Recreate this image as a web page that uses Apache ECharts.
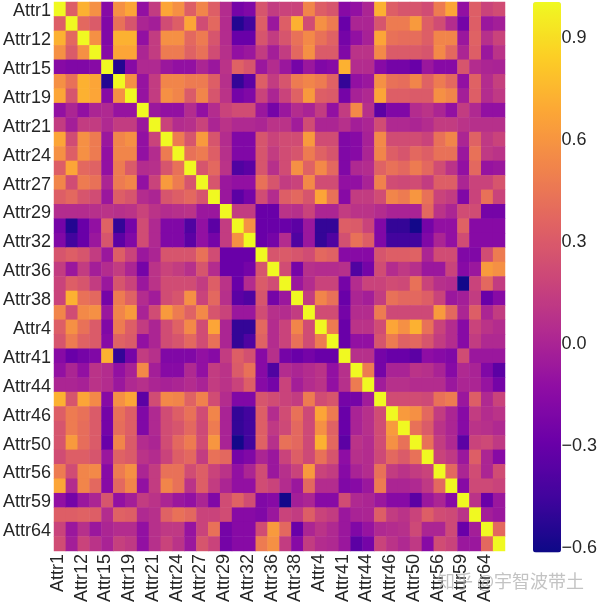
<!DOCTYPE html>
<html><head><meta charset="utf-8">
<style>html,body{margin:0;padding:0;background:#fff}#c{width:600px;height:605px}</style>
<script src="https://cdn.jsdelivr.net/npm/echarts@6/dist/echarts.min.js"></script>
</head><body><div id="c"></div>
<script>
const tickLabels = ['Attr1','Attr12','Attr15','Attr19','Attr21','Attr24','Attr27','Attr29','Attr32','Attr36','Attr38','Attr4','Attr41','Attr44','Attr46','Attr50','Attr56','Attr59','Attr64'];
const colorbarTicks = [-0.6,-0.3,0,0.3,0.6,0.9];
const plasma = ['#0d0887','#41049d','#6a00a8','#8f0da4','#b12a90','#cc4778','#e16462','#f1844b','#fca636','#fcce25','#f0f921'];
// upper triangle of the correlation matrix, each row starting at its diagonal cell
const row00=[1,.32,.72,.57,-.17,.57,.67,-.12,.13,.67,.57,.32,.52,.32,.04,-.25,-.2,.27,.13,.17,.17,.52,.32,.27,-.17,-.12,0,.72,.32,.27,.27,.22,.47,.67,-.12,.32,.17,.22];
const row01=[1,.37,.3,-.2,.42,.27,0,-.04,.22,.32,.67,.22,.37,.04,-.55,-.45,.32,-.08,.32,.72,.22,.57,.47,-.3,0,0,.27,.47,.47,.62,.32,.22,.04,-.25,.32,-.08,-.04];
const row02=[1,.57,-.2,.72,.72,-.12,.13,.57,.57,.37,.47,.27,.04,-.3,-.3,.27,.13,.27,.42,.54,.42,.34,-.25,-.12,-.02,.67,.42,.4,.4,.32,.52,.52,-.08,.34,.06,.17];
const row03=[1,-.17,.67,.67,0,.13,.47,.47,.34,.42,.22,.06,-.12,-.08,.13,-.04,.13,.37,.57,.3,.3,-.2,.08,.08,.54,.3,.3,.3,.27,.54,.37,0,.32,-.08,.08];
const row04=[1,-.55,-.17,.02,.02,-.08,-.12,-.12,0,-.08,.08,.34,.27,-.08,.04,-.08,-.25,-.08,-.2,-.17,.72,.04,.04,-.17,-.25,-.25,-.3,-.08,-.17,-.17,.27,.04,0,-.01];
const row05=[1,.57,-.1,.13,.52,.52,.47,.47,.32,.06,-.5,-.35,.32,.13,.27,.47,.52,.47,.34,-.5,-.12,-.08,.57,.42,.4,.52,.34,.47,.37,-.12,.34,.04,.15];
const row06=[1,-.1,.13,.57,.52,.3,.52,.27,.08,-.25,-.2,.17,0,.17,.34,.62,.32,.3,-.25,-.02,.02,.67,.32,.32,.3,.3,.57,.52,-.04,.32,.04,.11];
const row07=[1,-.08,-.12,-.12,.04,-.12,.04,.17,.22,.22,-.08,-.25,-.08,.04,-.01,.13,-.12,.13,.54,.06,-.35,-.2,-.2,.04,.08,0,-.12,.13,.02,-.12,-.12];
const row08=[1,.17,.04,.06,.17,0,.08,.02,.02,0,.08,.08,-.05,.22,0,0,.06,-.04,0,.22,.02,.02,0,.04,.13,.13,.08,.06,.06,.06];
const row09=[1,.47,.27,.62,.27,.04,-.2,-.2,.27,.17,.22,.22,.62,.22,.22,-.2,-.17,-.02,.54,.22,.22,.22,.17,.42,.52,0,.34,.11,.17];
const row10=[1,.42,.47,.32,.06,-.2,-.2,.27,.13,.22,.27,.47,.34,.27,-.2,-.17,0,.52,.32,.27,.37,.32,.42,.42,-.08,.42,.11,.08];
const row11=[1,.27,.37,.08,-.4,-.35,.27,.06,.22,.57,.34,.54,.37,-.2,.02,.04,.34,.42,.37,.47,.37,.22,.08,-.12,.37,-.1,-.08];
const row12=[1,.27,-.08,-.12,-.12,.42,.27,.13,.17,.54,.22,.22,-.12,-.12,-.01,.5,.22,.2,.22,.13,.32,.32,0,.17,.17,.27];
const row13=[1,-.08,-.35,-.25,.22,.04,.32,.37,.27,.67,.42,-.17,.13,.13,.22,.52,.47,.6,.42,.17,.13,-.2,.17,.42,.17];
const row14=[1,.13,.13,-.3,-.3,.08,.06,.17,0,0,.13,.08,.08,.04,-.01,-.01,-.01,.37,.08,0,.22,.22,-.25,-.25];
const row15=[1,.57,-.3,-.3,-.3,-.35,-.08,-.5,-.5,.32,.3,.17,-.2,-.5,-.5,-.6,-.25,-.12,-.12,.34,-.17,-.17,-.17];
const row16=[1,-.3,-.25,.04,-.4,-.08,-.5,-.4,.24,.42,.32,-.2,-.45,-.45,-.45,-.2,0,-.12,.22,-.17,-.17,-.17];
const row17=[1,.27,.3,.27,.22,.37,.34,-.17,-.17,-.17,.27,.32,.32,.34,0,.22,.22,-.2,-.2,.22,.47];
const row18=[1,.22,-.25,.06,.04,.04,.06,-.4,-.25,.22,.04,.11,.06,-.08,-.08,.17,-.17,-.08,.62,.57];
const row19=[1,-.08,.04,.17,.17,-.25,.04,.17,.17,.22,.2,.42,.17,.06,.04,-.6,.17,.37,.13];
const row20=[1,.13,.52,.42,-.3,0,-.04,.13,.42,.37,.37,.32,.17,-.08,-.04,.13,-.3,-.17];
const row21=[1,.22,.22,-.25,.04,.04,.47,.2,.2,.2,.2,.62,.37,0,.32,0,.13];
const row22=[1,.47,-.3,.08,.08,.22,.67,.57,.72,.42,.17,.04,-.17,.17,.08,.04];
const row23=[1,-.3,-.12,-.12,.27,.47,.34,.37,.27,.13,.04,-.17,.13,.02,.02];
const row24=[1,.06,.06,-.25,-.3,-.3,-.35,-.14,-.17,-.2,.22,-.08,-.08,-.08];
const row25=[1,.47,-.25,-.01,-.01,.08,.06,-.01,-.17,.02,-.01,-.2,-.35];
const row26=[1,-.05,.06,.06,.04,.04,.04,-.08,0,0,-.1,-.25];
const row27=[1,.22,.22,.22,.2,.42,.47,-.08,.32,.02,.17];
const row28=[1,.62,.57,.37,.13,0,-.17,.13,.04,.08];
const row29=[1,.42,.3,.08,0,-.17,.08,.06,.02];
const row30=[1,.42,.13,.02,-.35,.17,.2,.11];
const row31=[1,.17,.11,-.08,.32,0,-.17];
const row32=[1,.37,0,.22,0,.22];
const row33=[1,-.17,.2,.2,.17];
const row34=[1,.08,-.3,-.08];
const row35=[1,-.04,-.08];
const row36=[1,.37];
const row37=[1];
const rows=[row00,row01,row02,row03,row04,row05,row06,row07,row08,row09,row10,row11,row12,row13,row14,row15,row16,row17,row18,row19,row20,row21,row22,row23,row24,row25,row26,row27,row28,row29,row30,row31,row32,row33,row34,row35,row36,row37];
const cells=[];
rows.forEach((r,i)=>r.forEach((v,k)=>{const j=i+k;cells.push([j,i,v]);if(j!==i)cells.push([i,j,v]);}));
const cats=[];tickLabels.forEach(l=>{cats.push(l);cats.push('');});
const font={fontFamily:'"Liberation Sans",Arial,sans-serif',fontSize:18,color:'#262626'};
const chart=echarts.init(document.getElementById('c'),null,{renderer:'canvas'});
chart.setOption({
  animation:false,
  backgroundColor:'#fff',
  grid:[
    {left:52,top:2,width:453,height:550.5,containLabel:false},
    {left:533,top:2,width:28,height:550.5,containLabel:false}
  ],
  xAxis:[
    {type:'category',gridIndex:0,data:cats,position:'bottom',axisLine:{show:false},axisTick:{show:false},splitLine:{show:false},
      axisLabel:{...font,interval:0,rotate:90,margin:3,hideOverlap:false,verticalAlign:'bottom',lineHeight:4}},
    {type:'value',gridIndex:1,min:0,max:1,show:false}
  ],
  yAxis:[
    {type:'category',gridIndex:0,data:cats,inverse:true,axisLine:{show:false},axisTick:{show:false},splitLine:{show:false},
      axisLabel:{...font,interval:0,margin:3,hideOverlap:false,verticalAlign:'top',lineHeight:4}},
    {type:'value',gridIndex:1,min:-0.62,max:1,position:'right',axisLine:{show:false},axisTick:{show:false},splitLine:{show:false},
      axisLabel:{...font,margin:2,customValues:colorbarTicks,hideOverlap:false,verticalAlign:'top',lineHeight:4,formatter:v=>(v<0?'\u2212':'')+Math.abs(v).toFixed(1)}}
  ],
  visualMap:{type:'continuous',min:-0.62,max:1,calculable:false,realtime:false,seriesIndex:0,
    left:533,top:2,itemWidth:28,itemHeight:550.5,text:null,showLabel:false,padding:0,
    inRange:{color:plasma}},
  series:[{type:'heatmap',xAxisIndex:0,yAxisIndex:0,data:cells,progressive:0,itemStyle:{borderWidth:0},emphasis:{disabled:true}}],
  graphic:[{type:'text',left:437,top:572,silent:true,z:100,
    style:{text:'知乎 @宇智波带土',font:'18px "Noto Sans CJK SC"',fill:'rgba(170,170,170,0.7)'}}]
});
</script></body></html>
